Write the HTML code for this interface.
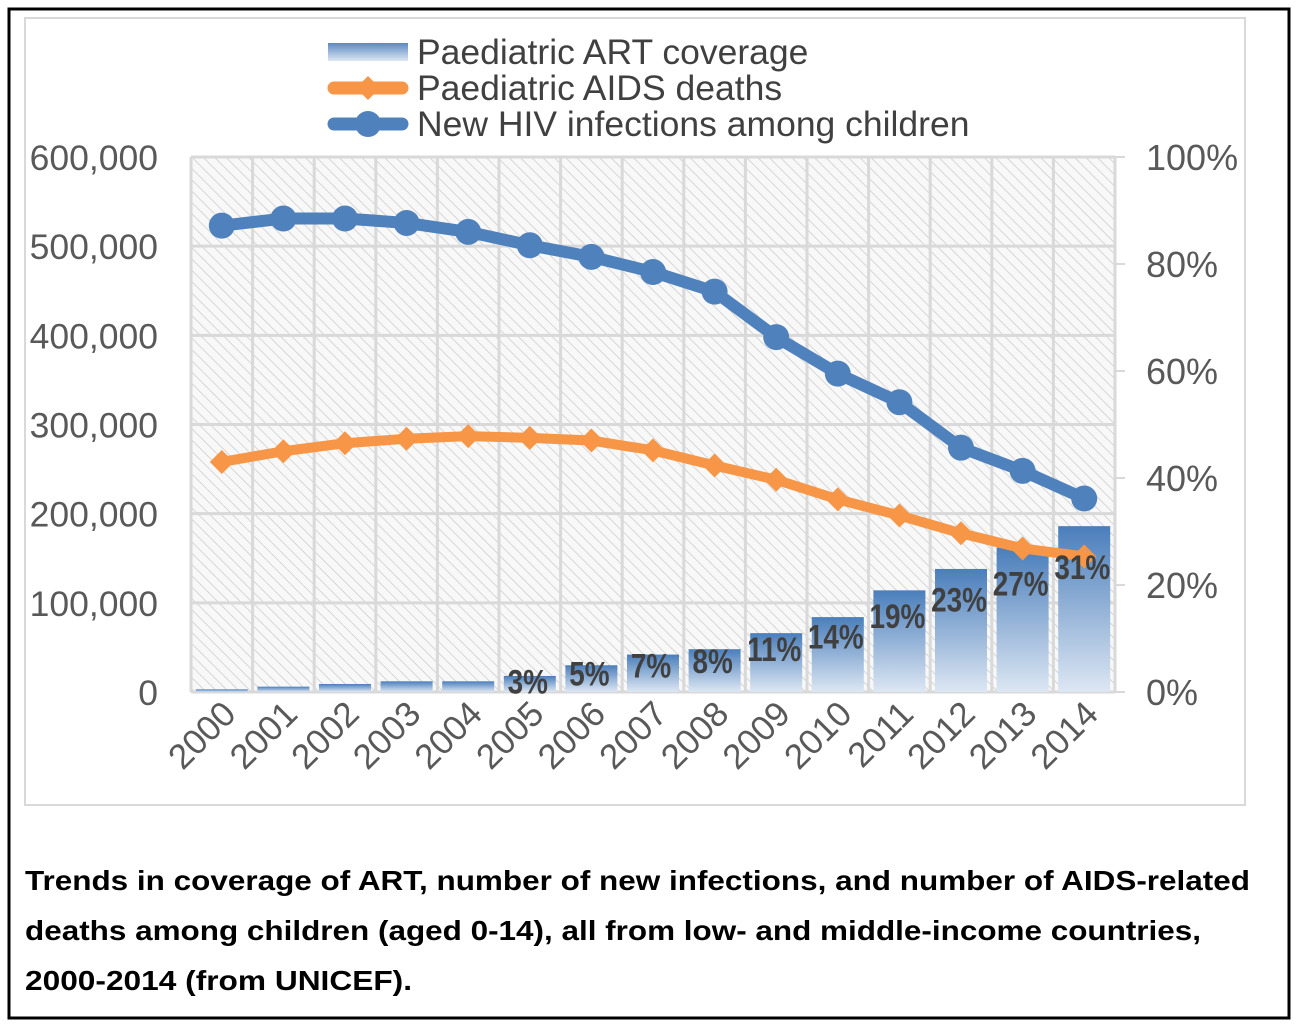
<!DOCTYPE html>
<html><head><meta charset="utf-8"><style>
html,body{margin:0;padding:0;background:#fff;}
svg{display:block;font-family:"Liberation Sans",sans-serif;}
</style></head><body>
<svg id="c" width="1299" height="1027" viewBox="0 0 1299 1027">
<defs>
<pattern id="hatch" width="8" height="8" patternUnits="userSpaceOnUse" patternTransform="rotate(-45)">
<rect width="8" height="8" fill="#f8f8f8"/>
<line x1="0" y1="0" x2="0" y2="8" stroke="#d6d6d6" stroke-width="2"/>
</pattern>
<linearGradient id="barg" x1="0" y1="0" x2="0" y2="1">
<stop offset="0" stop-color="#4a7ebb"/><stop offset="1" stop-color="#dde7f3"/>
</linearGradient>
<linearGradient id="legg" x1="0" y1="0" x2="0" y2="1">
<stop offset="0" stop-color="#5a88c0"/><stop offset="1" stop-color="#dde7f3"/>
</linearGradient>
</defs>
<rect x="9" y="9" width="1280" height="1009" fill="#fff" stroke="#000" stroke-width="3"/>
<rect x="25" y="18" width="1220" height="787" fill="#fff" stroke="#d9d9d9" stroke-width="2"/>
<g id="plot"></g>
<g id="legend">
<rect x="328" y="43" width="80" height="18" fill="url(#legg)"/>
<text x="417" y="64" font-size="35.5" fill="#404040">Paediatric ART coverage</text>
<line x1="334" y1="88" x2="402" y2="88" stroke="#f79646" stroke-width="13" stroke-linecap="round"/>
<polygon points="368,76 380,88 368,100 356,88" fill="#f79646"/>
<text x="417" y="100" font-size="35.5" fill="#404040">Paediatric AIDS deaths</text>
<line x1="334" y1="124" x2="402" y2="124" stroke="#4f81bd" stroke-width="13" stroke-linecap="round"/>
<circle cx="368" cy="124" r="13" fill="#4f81bd"/>
<text x="417" y="136" font-size="35.5" fill="#404040">New HIV infections among children</text>
</g>
<g font-weight="bold" font-size="28" fill="#000">
<text x="25" y="890" textLength="1225" lengthAdjust="spacingAndGlyphs">Trends in coverage of ART, number of new infections, and number of AIDS-related</text>
<text x="25" y="940" textLength="1176" lengthAdjust="spacingAndGlyphs">deaths among children (aged 0-14), all from low- and middle-income countries,</text>
<text x="25" y="990" textLength="387" lengthAdjust="spacingAndGlyphs">2000-2014 (from UNICEF).</text>
</g>
</svg>
<script>
const years=["2000","2001","2002","2003","2004","2005","2006","2007","2008","2009","2010","2011","2012","2013","2014"];
const artCoverage=[0.5,1,1.5,2,2,3,5,7,8,11,14,19,23,27,31];
const artLabels=["","","","","","3%","5%","7%","8%","11%","14%","19%","23%","27%","31%"];
const newInfections=[523000,531000,531000,526000,516000,501000,488000,471000,449000,398000,357000,325000,274000,248000,217000];
const aidsDeaths=[258000,270000,279000,284000,287000,285000,282000,271000,254000,238000,216000,198000,178000,161000,152000];
const leftTicks=[0,100000,200000,300000,400000,500000,600000];
const leftTickLabels=["0","100,000","200,000","300,000","400,000","500,000","600,000"];
const rightTicks=[0,20,40,60,80,100];
const rightTickLabels=["0%","20%","40%","60%","80%","100%"];

const NS="http://www.w3.org/2000/svg";
const X0=191,X1=1115,Y0=692,Y1=157;
const bw=(X1-X0)/years.length;
const xc=i=>X0+bw*(i+0.5);
const yL=v=>Y0-(v/600000)*(Y0-Y1);
const yR=v=>Y0-(v/100)*(Y0-Y1);
const g=document.getElementById('plot');
function mk(tag,attrs,parent){const e=document.createElementNS(NS,tag);for(const k in attrs)e.setAttribute(k,attrs[k]);(parent||g).appendChild(e);return e;}

const bg=mk('rect',{x:X0,y:Y1,width:X1-X0,height:Y0-Y1,fill:'url(#hatch)'});


leftTicks.forEach((t,i)=>{
  const ln=mk('line',{x1:X0,x2:X1,y1:yL(t),y2:yL(t),stroke:'#d9d9d9','stroke-width':3});
  
  
  const tx=mk('text',{x:158,y:yL(t)+13,'text-anchor':'end','font-size':35.5,fill:'#595959'});
  tx.textContent=leftTickLabels[i];
  
  
});
for(let i=0;i<=years.length;i++){
  const ln=mk('line',{x1:X0+bw*i,x2:X0+bw*i,y1:Y1,y2:Y0,stroke:'#d9d9d9','stroke-width':3});
  
  
}
rightTicks.forEach((t,i)=>{
  const tk=mk('line',{x1:X1,x2:X1+10,y1:yR(t),y2:yR(t),stroke:'#d9d9d9','stroke-width':2});
  
  
  const tx=mk('text',{x:1146,y:yR(t)+13,'font-size':36,fill:'#595959'});
  tx.textContent=rightTickLabels[i];
  
  
});
years.forEach((y,i)=>{
  const b=mk('rect',{x:xc(i)-26,y:yR(artCoverage[i]),width:52,height:Y0-yR(artCoverage[i]),fill:'url(#barg)'});
  
  
  const tx=mk('text',{x:0,y:0,'text-anchor':'end','font-size':35,fill:'#595959',transform:`translate(${xc(i)+16},${716}) rotate(-45)`});
  tx.textContent=y;
  
  
});
function line(vals,color,name){
  const p=mk('polyline',{points:vals.map((v,i)=>xc(i)+','+yL(v)).join(' '),fill:'none',stroke:color,'stroke-width':name==='infections'?12:10,'stroke-linejoin':'round'});
  
  
}
line(aidsDeaths,'#f79646','deaths');
line(newInfections,'#4f81bd','infections');
aidsDeaths.forEach((v,i)=>{
  const x=xc(i),y=yL(v);
  const m=mk('polygon',{points:`${x},${y-12} ${x+12},${y} ${x},${y+12} ${x-12},${y}`,fill:'#f79646'});
  
  
});
newInfections.forEach((v,i)=>{
  const m=mk('circle',{cx:xc(i),cy:yL(v),r:13,fill:'#4f81bd'});
  
  
});
artLabels.forEach((l,i)=>{
  if(!l)return;
  const v=artCoverage[i];
  const tx=mk('text',{x:0,y:0,'text-anchor':'middle','font-size':34,'font-weight':'bold',fill:'#404040',transform:`translate(${xc(i)-2},${Y0-v*4.1+14}) scale(0.82,1)`});
  tx.textContent=l;
  
  
});
</script>
</body></html>
